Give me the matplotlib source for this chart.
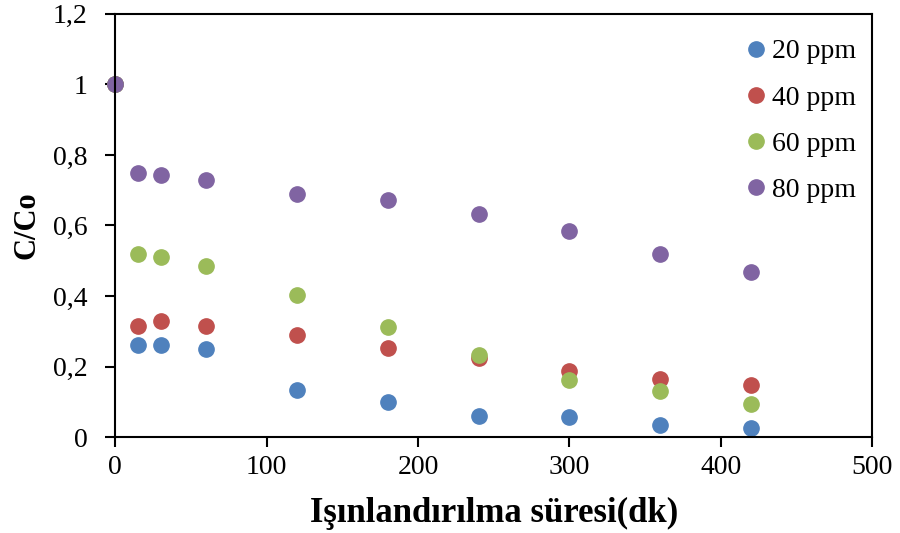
import matplotlib.pyplot as plt
from matplotlib.ticker import FuncFormatter

times = [0, 15, 30, 60, 120, 180, 240, 300, 360, 420]
ppm20 = [1, 0.261, 0.261, 0.250, 0.133, 0.099, 0.060, 0.057, 0.034, 0.026]
ppm40 = [1, 0.315, 0.329, 0.315, 0.289, 0.252, 0.224, 0.187, 0.165, 0.148]
ppm60 = [1, 0.519, 0.511, 0.485, 0.403, 0.312, 0.233, 0.162, 0.130, 0.094]
ppm80 = [1, 0.749, 0.743, 0.729, 0.689, 0.672, 0.633, 0.584, 0.519, 0.468]
labels = ['20 ppm', '40 ppm', '60 ppm', '80 ppm']
colors = ['#4F81BD', '#C0504D', '#9BBB59', '#8064A2']

plt.rcParams['font.family'] = ['Liberation Serif', 'DejaVu Serif']

fig = plt.figure(figsize=(9, 5.33), dpi=100)
ax = fig.add_axes([0.128, 0.180, 0.841, 0.794])

for ys, lab, c in zip([ppm20, ppm40, ppm60, ppm80], labels, colors):
    ax.plot(times, ys, 'o', color=c, ms=11, label=lab, clip_on=False)

ax.set_xlim(0, 500)
ax.set_ylim(0, 1.2)
ax.set_xticks(range(0, 501, 100))
ax.set_yticks([0, 0.2, 0.4, 0.6, 0.8, 1.0, 1.2])
ax.yaxis.set_major_formatter(FuncFormatter(lambda v, p: ('%g' % round(v, 1)).replace('.', ',')))
ax.tick_params(direction='out', length=7, width=1.5, labelsize=20)
ax.tick_params(axis='x', pad=6)
ax.tick_params(axis='y', pad=13)
for s in ax.spines.values():
    s.set_linewidth(1.5)

ax.set_xlabel('Işınlandırılma süresi(dk)', fontsize=25, fontweight='bold', labelpad=12)
ax.set_ylabel('C/Co', fontsize=22, fontweight='bold', labelpad=8)

ax.legend(loc='upper right', frameon=False, fontsize=20, handletextpad=0.1,
          labelspacing=0.75, borderaxespad=0.3, handlelength=1.0,
          bbox_to_anchor=(1.005, 0.987))

fig.savefig('out.png', dpi=100)
